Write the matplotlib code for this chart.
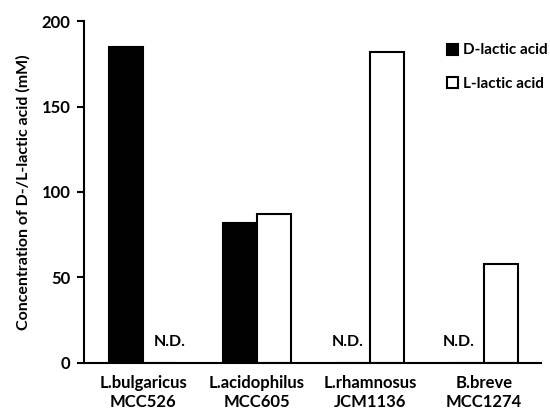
import matplotlib.pyplot as plt
import numpy as np

# D-/L-lactic acid produced by each strain (mM); None = not detected
strains = ['L.bulgaricus\nMCC526', 'L.acidophilus\nMCC605',
           'L.rhamnosus\nJCM1136', 'B.breve\nMCC1274']
d_lactic = [185, 82, None, None]
l_lactic = [None, 87, 182, 58]
y_ticks = [0, 50, 100, 150, 200]

plt.rcParams['font.family'] = ['Lato', 'DejaVu Sans']
plt.rcParams['font.weight'] = 'bold'

fig = plt.figure(figsize=(5.5, 4.15), dpi=100)
ax = fig.add_axes([0.153, 0.126, 0.83, 0.823])

x = np.arange(len(strains))
w = 0.3
d_vals = [v if v is not None else 0 for v in d_lactic]
l_vals = [v if v is not None else 0 for v in l_lactic]
ax.bar(x - w / 2, d_vals, w, color='black', edgecolor='black', lw=1.5,
       label='D-lactic acid')
ax.bar(x + w / 2, l_vals, w, color='white', edgecolor='black', lw=1.5,
       label='L-lactic acid')

# N.D. markers (slightly off-centre like the original)
nd_shift = {0: 0.08, 2: 0.05, 3: 0.07}
for i in range(len(strains)):
    if d_lactic[i] is None:
        ax.text(x[i] - w / 2 - nd_shift[i], 12, 'N.D.', ha='center',
                va='center', fontsize=11.5, fontweight='bold')
    if l_lactic[i] is None:
        ax.text(x[i] + w / 2 + nd_shift[i], 12, 'N.D.', ha='center',
                va='center', fontsize=11.5, fontweight='bold')

ax.set_xlim(-0.52, 3.5)
ax.set_ylim(0, 200)
ax.set_yticks(y_ticks)
ax.set_xticks(x)
ax.set_xticklabels(strains, fontsize=12, fontweight='bold', linespacing=1.25)
ax.tick_params(axis='x', length=0, pad=9)
ax.tick_params(axis='y', length=5, width=1.5, labelsize=12, pad=5)
for lbl in ax.get_yticklabels():
    lbl.set_fontweight('bold')
ax.spines['top'].set_visible(False)
ax.spines['right'].set_visible(False)
ax.spines['left'].set_linewidth(1.5)
ax.spines['bottom'].set_linewidth(1.5)
ax.set_ylabel('Concentration of D-/L-lactic acid (mM)', fontsize=11.5,
              fontweight='bold', labelpad=8)

ax.legend(loc='upper right', bbox_to_anchor=(1.045, 0.975), frameon=False,
          handlelength=0.75, handleheight=0.75, handletextpad=0.3,
          labelspacing=1.25, prop={'weight': 'bold', 'size': 11})

plt.savefig('out.png', dpi=100)
